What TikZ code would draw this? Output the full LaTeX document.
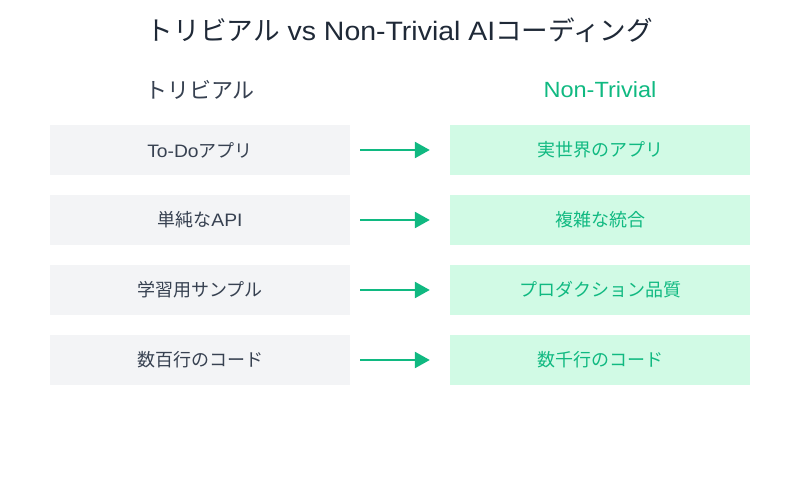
\documentclass[tikz,border=0pt]{standalone}
\usepackage{fontspec}
\setmainfont{Liberation Sans}[FakeStretch=1.07]
\newfontfamily\cjk{Noto Sans CJK JP}
\usetikzlibrary{arrows.meta}
\definecolor{titlec}{HTML}{1F2937}
\definecolor{leftbg}{HTML}{F3F4F6}
\definecolor{lefttx}{HTML}{374151}
\definecolor{rightbg}{HTML}{D1FAE5}
\definecolor{righttx}{HTML}{10B981}
\tikzset{
  box/.style={minimum width=300pt, minimum height=50pt, inner sep=0pt, font=\fontsize{18}{20}\selectfont},
  lbox/.style={box, fill=leftbg, text=lefttx},
  rbox/.style={box, fill=rightbg, text=righttx},
  conn/.style={draw=righttx, line width=2.5pt, -{Triangle[length=15pt,width=16pt]}},
}
\begin{document}
\begin{tikzpicture}[x=1pt,y=-1pt]
\useasboundingbox (0,0) rectangle (800,500);
\node[text=titlec, font=\fontsize{26.6}{30}\selectfont] (title) at (400,30) {{\cjk トリビアル} vs Non-Trivial AI{\cjk コーディング}};
\node[text=lefttx, font=\fontsize{22}{26}\selectfont] (lh) at (200,90) {\cjk トリビアル};
\node[text=righttx, font=\fontsize{22}{26}\selectfont] (rh) at (600,90) {Non-Trivial};
\node[lbox] (l0) at (200,150) {To-Do{\cjk アプリ}};
\node[rbox] (r0) at (600,150) {\cjk 実世界のアプリ};
\node[lbox] (l1) at (200,220) {{\cjk 単純な}API};
\node[rbox] (r1) at (600,220) {\cjk 複雑な統合};
\node[lbox] (l2) at (200,290) {\cjk 学習用サンプル};
\node[rbox] (r2) at (600,290) {\cjk プロダクション品質};
\node[lbox] (l3) at (200,360) {\cjk 数百行のコード};
\node[rbox] (r3) at (600,360) {\cjk 数千行のコード};
\foreach \i in {0,...,3}{
  \draw[conn] ([xshift=10pt]l\i.east) -- ([xshift=-20pt]r\i.west);
}
\end{tikzpicture}
\end{document}
